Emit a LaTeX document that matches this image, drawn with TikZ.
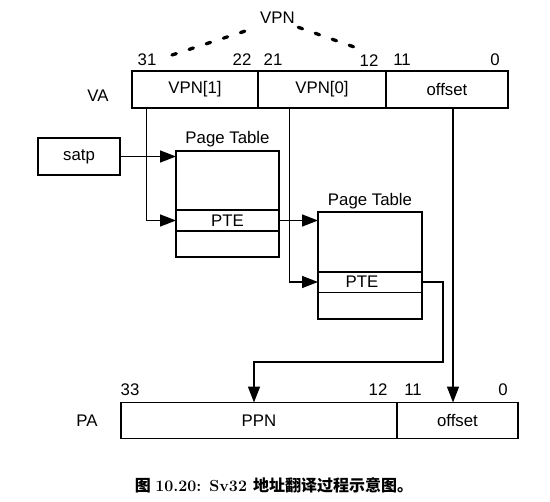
\documentclass[tikz,border=0pt]{standalone}
\usepackage{fontspec}
\setsansfont{Liberation Sans}
\newfontfamily\cjk{Noto Sans CJK SC}
\usepackage{tikz}
\usetikzlibrary{arrows.meta,positioning}

\tikzset{
  champ/.style={draw, line width=1.5bp, minimum height=37bp, inner sep=0pt, outer sep=0pt},
  fleche/.style={line width=1.5bp, -{Triangle[length=16bp,width=12bp]}},
  pointille/.style={line width=3.3bp, line cap=round, dash pattern=on 4.5bp off 13.5bp},
}

\begin{document}
\begin{tikzpicture}[x=1bp,y=-1bp,font=\sffamily\fontsize{16.8bp}{19bp}\selectfont]
        \useasboundingbox (0,0) rectangle (550,502);
        % Adresse virtuelle
        \path(98,96) node (va) {VA};
        \node[champ, minimum width=126bp] (vpn1) at (195,89.5) {VPN[1]};
        \node[champ, minimum width=128bp, right=0pt of vpn1] (vpn0) {VPN[0]};
        \node[champ, minimum width=122bp, right=0pt of vpn0] (vaoff) {offset};
        \path(147,60) node (b31) {31};
        \path(242,60) node (b22) {22};
        \path(273,60) node (b21) {21};
        \path(369,61) node (b12) {12};
        \path(402,60) node (b11) {11};
        \path(495,60) node (b0) {0};
        \path(277.5,18) node (vpn) {VPN};
        \coordinate (vg) at (172,55);
        \coordinate (vd) at (357,48);
        \draw[pointille] (vg) -- (vpn.south west);
        \draw[pointille] (vpn.south east) -- (vd);
        % satp
        \node[champ, minimum width=82bp] (satp) at (79,156.5) {satp};
        % Tables
        \node[champ, minimum width=103bp, minimum height=106bp] (pt1) at (227.5,204) {};
        \path(pt1.north) ++(0,-12) node (lpt1) {Page Table};
        \node[champ, minimum width=103bp, minimum height=21bp] (pte1) at (227.5,220.5) {PTE};
        \node[champ, minimum width=104bp, minimum height=107bp] (pt2) at (370,265.5) {};
        \path(pt2.north) ++(0,-11) node (lpt2) {Page Table};
        \node[champ, minimum width=104bp, minimum height=20.5bp] (pte2) at (370,282) {};
        \path(362,282) node (tpte2) {PTE};
        % Adresse physique
        \path(87,421) node (pa) {PA};
        \node[champ, minimum width=276bp, minimum height=36bp] (ppn) at (259,420.5) {PPN};
        \node[champ, minimum width=121bp, minimum height=36bp, right=0pt of ppn] (paoff) {offset};
        \path(130,390) node (b33) {33};
        \path(378,390) node (p12) {12};
        \path(413,390) node (p11) {11};
        \path(503,390) node (p0) {0};
        % Fleches
        \draw[fleche] (satp.east) -- (satp.east -| pt1.west);
        \draw[fleche] ([xshift=-48.3bp]vpn1.south) |- (pte1.west);
        \draw[fleche] (pte1.east) -- (pte1.east -| pt2.west);
        \draw[fleche] ([xshift=-32.7bp]vpn0.south) |- (pte2.west);
        \coordinate (coude) at (443,362);
        \draw[fleche] (pte2.east) -| (coude) -| ([xshift=-5bp]ppn.north);
        \coordinate (o) at ([xshift=6bp]vaoff.south);
        \draw[fleche] (o) -- (o |- paoff.north);
        % Legende
        \path(274,485) node (legende) {\fontsize{16bp}{18bp}\selectfont\bfseries{\cjk 图}\ \rmfamily 10.20: Sv32\ {\cjk 地址翻译过程示意图。}};
     \end{tikzpicture}
\end{document}
